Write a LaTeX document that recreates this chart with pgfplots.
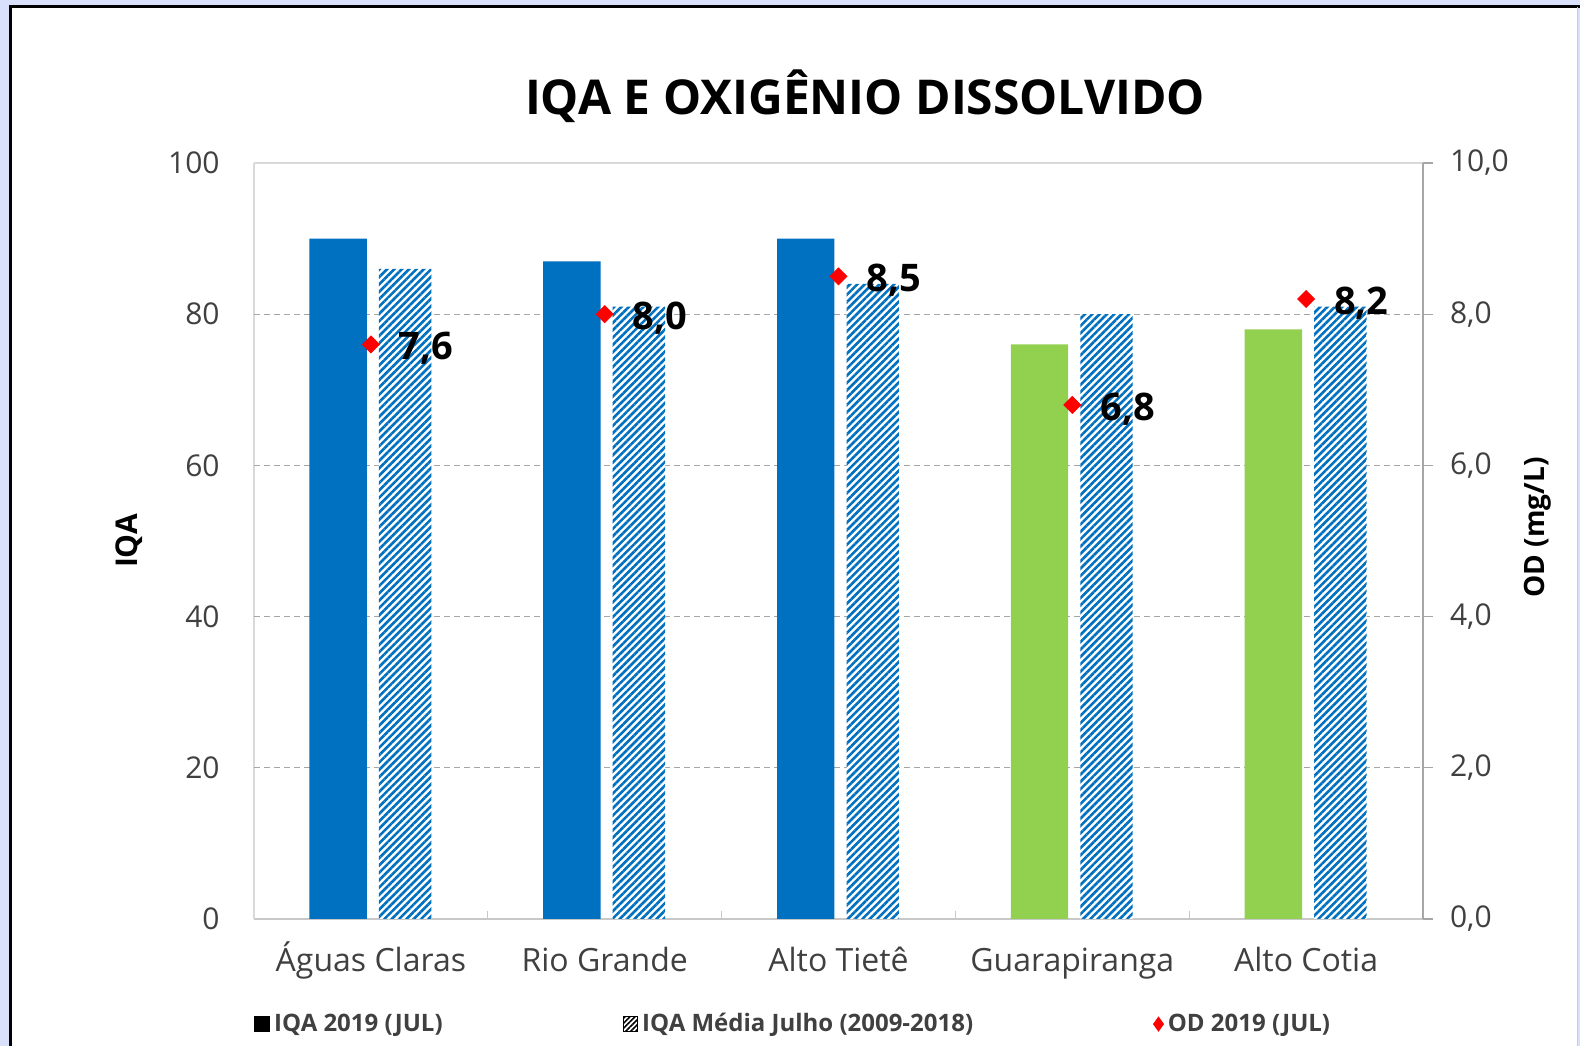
\documentclass[border=0pt]{standalone}
\usepackage{pgfplots}
\pgfplotsset{compat=1.18}
\usepackage{fontspec}
\setmainfont{Open Sans}
\usetikzlibrary{patterns.meta}
\definecolor{bgl}{RGB}{217,224,252}
\definecolor{xblue}{RGB}{0,112,192}
\definecolor{xgreen}{RGB}{146,208,80}
\definecolor{ticktext}{RGB}{64,64,64}
\definecolor{gridc}{RGB}{166,166,166}
\definecolor{borderc}{RGB}{217,217,217}
\definecolor{axisc}{RGB}{200,200,200}
\begin{document}
\begin{tikzpicture}[x=1bp,y=1bp]
\fill[bgl] (0,0) rectangle (790,523);
\fill[white] (5,0) rectangle (788.5,519.5);
\draw[black, line width=1.5bp] (5,0) -- (5,519.5) -- (790,519.5);
\draw[gray!40, line width=0.5bp] (788.5,0) -- (788.5,519.5);
\node[font=\bfseries\fontsize{24bp}{28bp}\selectfont, anchor=center] at (432.5,475) {IQA E OXIGÊNIO DISSOLVIDO};
\begin{axis}[
  at={(127bp,63.5bp)}, anchor=south west,
  scale only axis, width=584.5bp, height=378bp,
  xmin=-0.5, xmax=4.5, ymin=0, ymax=100,
  axis x line*=bottom, axis y line*=left,
  x axis line style={axisc, line width=0.6bp},
  y axis line style={borderc, line width=0.6bp},
  xtick={0,1,2,3,4},
  xticklabels={Águas Claras, Rio Grande, Alto Tietê, Guarapiranga, Alto Cotia},
  minor xtick={-0.5,0.5,1.5,2.5,3.5,4.5},
  major x tick style={draw=none},
  minor x tick style={axisc, line width=0.6bp},
  minor tick length=4bp,
  ytick={0,20,40,60,80,100},
  major y tick style={draw=none},
  extra y ticks={20,40,60,80}, extra y tick labels={},
  extra y tick style={ymajorgrids=true, major grid style={gridc, dash pattern=on 3bp off 2bp, line width=0.6bp}, major tick length=0pt},
  xticklabel style={font=\fontsize{16bp}{19bp}\selectfont, text=ticktext, anchor=base, yshift=-26.2bp},
  yticklabel style={font=\fontsize{15bp}{18bp}\selectfont, text=ticktext, xshift=-13.7bp},
  /pgf/number format/assume math mode=true,
  ylabel={IQA},
  ylabel style={at={(axis description cs:-0.107,0.5)}, anchor=center, font=\bfseries\fontsize{15bp}{18bp}\selectfont, text=black},
]
\draw[borderc, line width=0.6bp] (rel axis cs:0,1) -- (rel axis cs:1,1);
\addplot[ybar, bar width=28.7bp, bar shift=-16.4bp, fill=xblue, draw=none] coordinates {(0,90) (1,87) (2,90)};
\addplot[ybar, bar width=28.7bp, bar shift=-16.4bp, fill=xgreen, draw=none] coordinates {(3,76) (4,78)};
\addplot[ybar, bar width=26.2bp, bar shift=17.1bp, fill=white, draw=none] coordinates {(0,86) (1,81) (2,84) (3,80) (4,81)};
\addplot[ybar, bar width=26.2bp, bar shift=17.1bp, draw=none, pattern={Lines[angle=45,distance=2.6bp,line width=1.3bp]}, pattern color=xblue] coordinates {(0,86) (1,81) (2,84) (3,80) (4,81)};
\end{axis}
\begin{axis}[
  at={(127bp,63.5bp)}, anchor=south west,
  scale only axis, width=584.5bp, height=378bp,
  xmin=-0.5, xmax=4.5, ymin=0, ymax=10,
  axis x line=none, axis y line*=right,
  y axis line style={gridc, line width=0.6bp},
  ytick={0,2,4,6,8,10},
  tick align=outside, major tick length=5bp,
  ytick style={gridc, line width=0.6bp},
  yticklabel style={font=\fontsize{15bp}{18bp}\selectfont, text=ticktext, xshift=5bp},
  /pgf/number format/assume math mode=true,
  /pgf/number format/fixed,
  /pgf/number format/fixed zerofill,
  /pgf/number format/precision=1,
  /pgf/number format/use comma,
  ylabel={OD (mg/L)},
  ylabel style={at={(axis description cs:1.0985,0.518)}, anchor=center, font=\bfseries\fontsize{14bp}{17bp}\selectfont, text=black},
  legend columns=3,
  legend style={at={(axis description cs:0,-0.139)}, anchor=west, draw=none, fill=none, inner sep=0pt,
    font=\bfseries\fontsize{12bp}{14bp}\selectfont, text=ticktext,
    /tikz/every even column/.append style={column sep=88bp}},
]
\addlegendimage{legend image code/.code={\fill[black] (0bp,-3.75bp) rectangle (7.5bp,3.75bp);}}
\addlegendentry{IQA 2019 (JUL)}
\addlegendimage{legend image code/.code={\fill[pattern={Lines[angle=45,distance=1.8bp,line width=0.8bp]}, pattern color=black] (0bp,-3.75bp) rectangle (7bp,3.75bp);}}
\addlegendentry{IQA Média Julho (2009-2018)}
\addplot[only marks, mark=square*, mark size=3bp, mark options={rotate=45, fill=red, draw=red}, color=red,
  nodes near coords,
  nodes near coords style={anchor=west, xshift=10.5bp, yshift=-2bp, font=\bfseries\fontsize{19bp}{21bp}\selectfont, text=black},
  legend image code/.code={\fill[red] (0bp,0bp) -- (2.5bp,3.5bp) -- (5bp,0bp) -- (2.5bp,-3.5bp) -- cycle;}]
  coordinates {(0,7.6) (1,8.0) (2,8.5) (3,6.8) (4,8.2)};
\addlegendentry{OD 2019 (JUL)}
\end{axis}
\pgfresetboundingbox
\useasboundingbox (0,0) rectangle (790,523);
\end{tikzpicture}
\end{document}
